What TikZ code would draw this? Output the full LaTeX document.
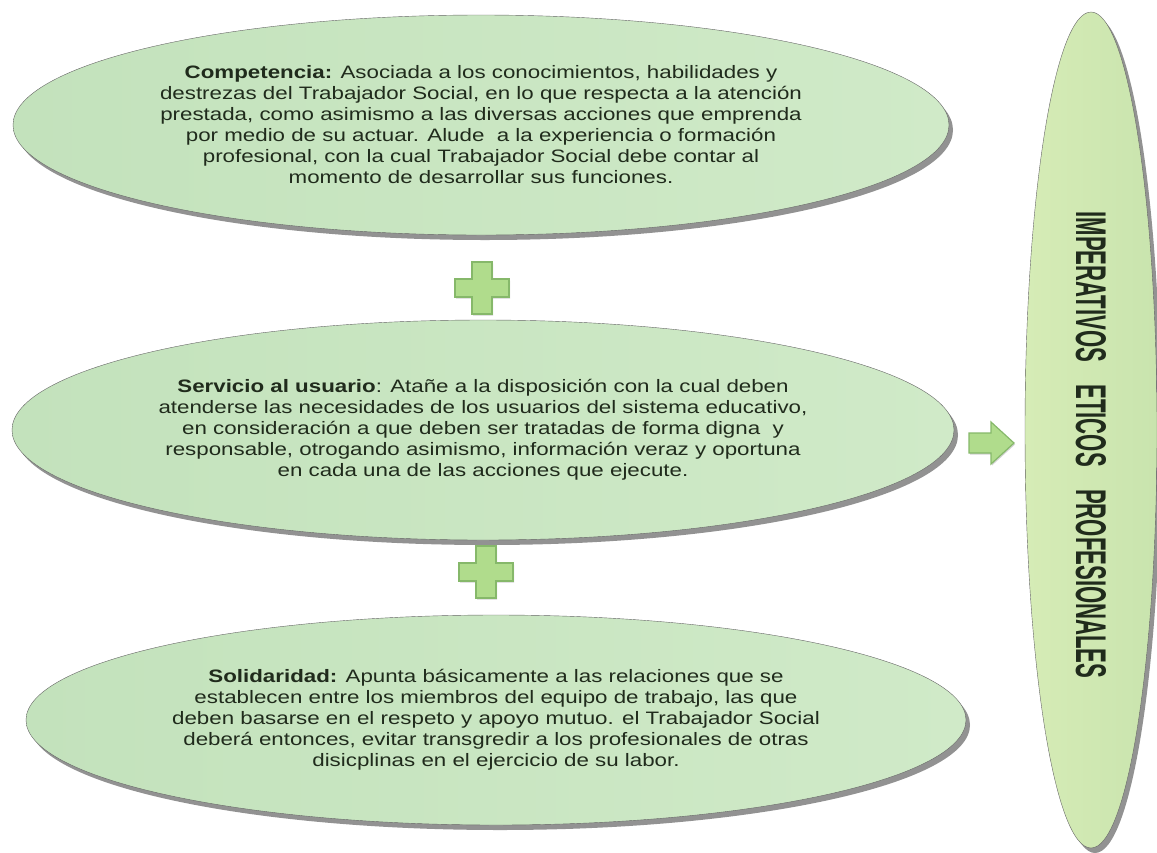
\documentclass[tikz,border=0pt]{standalone}
\usepackage{fontspec}
\setmainfont{Liberation Sans}
\newfontfamily\ideafont{Liberation Sans}[FakeStretch=1.24]
\usepackage{tikz}
\usetikzlibrary{positioning,shapes.geometric,shadows}

\definecolor{leafgreen}{HTML}{C3E2BC}
\definecolor{leaflight}{HTML}{D0EAC8}
\definecolor{limegreen}{HTML}{D6ECB6}
\definecolor{limelight}{HTML}{C9E4AE}
\definecolor{plusgreen}{HTML}{B0DC8C}
\definecolor{plusedge}{HTML}{86B86A}
\definecolor{inktext}{HTML}{202B1C}

% plus sign between two ideas
\newcommand{\plussign}[1]{%
  \filldraw[plus shape,shift={(#1)}]
    (-10,-26) -- (10,-26) -- (10,-9) -- (27,-9) -- (27,9) -- (10,9)
    -- (10,26) -- (-10,26) -- (-10,9) -- (-27,9) -- (-27,-9) -- (-10,-9) -- cycle;}

\begin{document}
\begin{tikzpicture}[x=1pt,y=-1pt,
  idea node/.style={ellipse,draw=black!60,thin,inner sep=0pt,
    left color=leafgreen,right color=leaflight,
    drop shadow={shadow xshift=4pt,shadow yshift=-5pt,fill=black!85},
    align=center,text=inktext,font=\ideafont\fontsize{18}{21}\selectfont},
  plus shape/.style={fill=plusgreen,draw=plusedge,line width=1.2pt,
    drop shadow={shadow xshift=1pt,shadow yshift=-1.5pt,fill=black!35}}]
  \useasboundingbox (0,0) rectangle (1157,852);

  \node[idea node,minimum width=936pt,minimum height=220pt] (competencia) at (481,125)
    {\textbf{Competencia:} Asociada a los conocimientos, habilidades y\\
     destrezas del Trabajador Social, en lo que respecta a la atención\\
     prestada, como asimismo a las diversas acciones que emprenda\\
     por medio de su actuar. Alude\ \ a la experiencia o formación\\
     profesional, con la cual Trabajador Social debe contar al\\
     momento de desarrollar sus funciones.};
  \node[idea node,minimum width=942pt,minimum height=220pt] (servicio) at (483,430)
    {\textbf{Servicio al usuario}: Atañe a la disposición con la cual deben\\
     atenderse las necesidades de los usuarios del sistema educativo,\\
     en consideración a que deben ser tratadas de forma digna\ \ y\\
     responsable, otrogando asimismo, información veraz y oportuna\\
     en cada una de las acciones que ejecute.};
  \node[idea node,minimum width=940pt,minimum height=210pt] (solidaridad) at (496,720)
    {\textbf{Solidaridad:} Apunta básicamente a las relaciones que se\\
     establecen entre los miembros del equipo de trabajo, las que\\
     deben basarse en el respeto y apoyo mutuo. el Trabajador Social\\
     deberá entonces, evitar transgredir a los profesionales de otras\\
     disicplinas en el ejercicio de su labor.};

  \node[idea node,left color=limegreen,right color=limelight,
    minimum width=132pt,minimum height=836pt] (imperativos) at (1091,430)
    {\rotatebox{-90}{\hspace{30pt}\resizebox{467pt}{30pt}{\normalfont\bfseries
      IMPERATIVOS\quad ETICOS\quad PROFESIONALES}}};

  \coordinate (plus1) at (482,288);
  \coordinate (plus2) at (486,572);
  \plussign{plus1}
  \plussign{plus2}

  \coordinate (arrow) at (991,443);
  \filldraw[plus shape,shift={(arrow)}]
    (-22,-10) -- (0,-10) -- (0,-21) -- (23,0) -- (0,21) -- (0,10) -- (-22,10) -- cycle;
\end{tikzpicture}
\end{document}
